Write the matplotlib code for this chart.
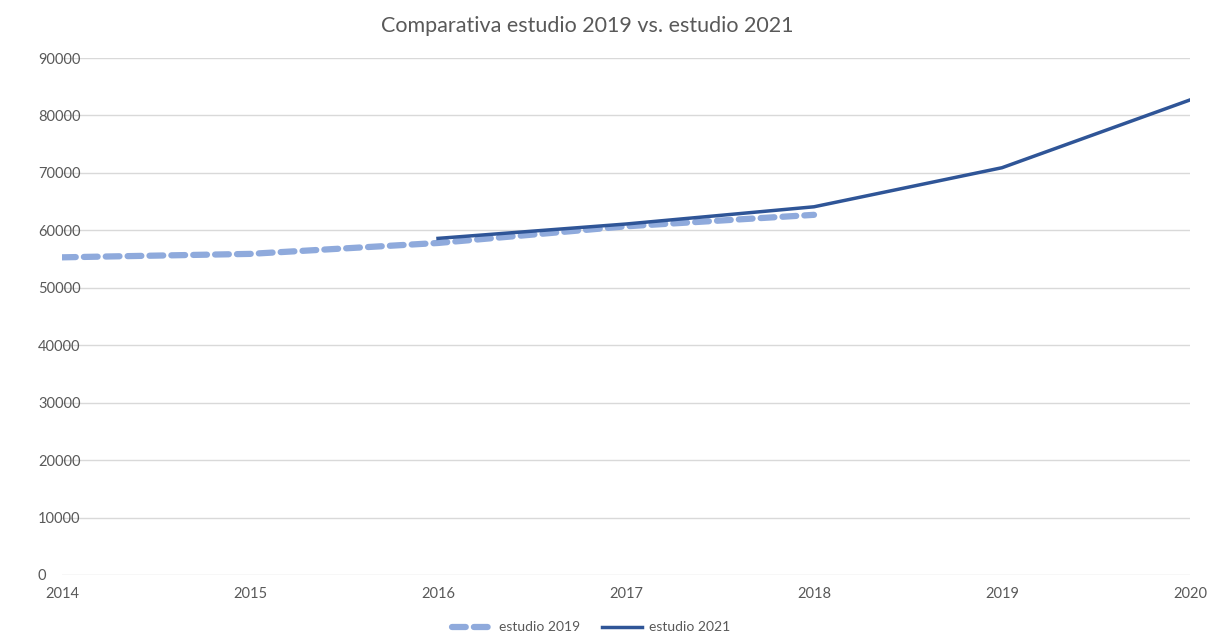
import matplotlib.pyplot as plt

# data
years_2019 = [2014, 2015, 2016, 2017, 2018]
estudio_2019 = [55300, 55900, 57800, 60700, 62700]
years_2021 = [2016, 2017, 2018, 2019, 2020]
estudio_2021 = [58600, 61100, 64100, 70900, 82700]
y_ticks = list(range(0, 90001, 10000))

plt.rcParams['font.family'] = ['Lato', 'DejaVu Sans']
grey = '#595959'

fig = plt.figure(figsize=(12.09, 6.33), dpi=100)
ax = fig.add_axes([62/1209, 58/633, (1190-62)/1209, (575-58)/633])

ax.plot(years_2019, estudio_2019, color='#8faadc', lw=4.5, ls=(0, (2.2, 1.3)),
        solid_capstyle='round', dash_capstyle='round', label='estudio 2019')
ax.plot(years_2021, estudio_2021, color='#2f5597', lw=2.5, label='estudio 2021')

ax.set_xlim(2014, 2020)
ax.set_ylim(0, 90000)
ax.set_yticks(y_ticks)
ax.set_xticks(range(2014, 2021))
ax.grid(axis='y', color='#d9d9d9', lw=1)
ax.set_axisbelow(True)
for s in ax.spines.values():
    s.set_visible(False)
ax.tick_params(length=0, colors=grey, labelsize=10.5)
# labels left-aligned at about x=38 px
ax.tick_params(axis='y', pad=24 * 72 / 100)
ax.tick_params(axis='x', pad=9)
for lab in ax.get_yticklabels():
    lab.set_horizontalalignment('left')

fig.suptitle('Comparativa estudio 2019 vs. estudio 2021', x=0.486, y=0.975,
             fontsize=15.5, color=grey)
ax.legend(loc='upper center', bbox_to_anchor=(0.469, -0.071), ncol=2, frameon=False,
          fontsize=10, labelcolor=grey, handlelength=2.9, handletextpad=0.5,
          columnspacing=1.6, borderpad=0.2)

fig.savefig('out.png', dpi=100)
